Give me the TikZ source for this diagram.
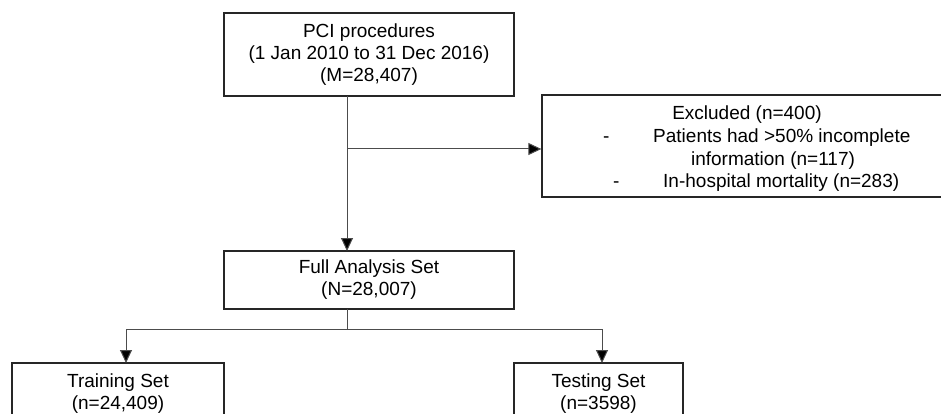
\documentclass[tikz,border=0pt]{standalone}
\usepackage{fontspec}
\setmainfont{Liberation Sans}
\usetikzlibrary{arrows.meta}
\begin{document}
\begin{tikzpicture}[x=1pt,y=-1pt,
  box/.style={draw=black!85, line width=1.3pt, align=center, inner sep=0pt,
    font=\fontsize{19}{22}\selectfont},
  txt/.style={inner sep=0pt, anchor=base west, font=\fontsize{19}{22}\selectfont},
  conn/.style={draw=black!70, line width=1pt},
  arr/.style={conn, -{Triangle[length=13pt,width=12pt,fill=black]}}]
\useasboundingbox (0,0) rectangle (941,414);

% main flow boxes
\node[box, minimum width=290pt, minimum height=83pt] (pci) at (369,54.5)
  {PCI procedures\\(1 Jan 2010 to 31 Dec 2016)\\(M=28,407)};
\node[box, minimum width=290pt, minimum height=58pt] (full) at (369,280)
  {Full Analysis Set\\(N=28,007)};
\node[box, minimum width=212pt, minimum height=61pt] (train) at (118,393.5)
  {Training Set\\(n=24,409)};
\node[box, minimum width=169pt, minimum height=61pt] (test) at (598.5,393.5)
  {Testing Set\\(n=3598)};

% exclusion box with its list
\node[box, minimum width=403pt, minimum height=102pt] (excl) at (743.5,146) {};
\node[txt, anchor=base] (exhead) at (747,120) {Excluded (n=400)};
\node[txt] (dashA) at (603,143) {-};
\node[txt] (itemA) at (653,143) {Patients had >50\% incomplete};
\node[txt, anchor=base] (itemAb) at (773,165) {information (n=117)};
\node[txt] (dashB) at (613,187) {-};
\node[txt] (itemB) at (663,187) {In-hospital mortality (n=283)};

% connectors
\coordinate (topout) at (347,96);
\coordinate (fullin) at (347,251);
\coordinate (branch) at (347,149);
\coordinate (fullout) at (347,309);
\coordinate (split) at (347,329);
\coordinate (splitL) at (126,329);
\coordinate (splitR) at (602,329);
\coordinate (trainin) at (126,363);
\coordinate (testin) at (602,363);

\draw[arr] (topout) -- (fullin);
\draw[arr] (branch) -- (excl.west |- branch);
\draw[conn] (fullout) -- (split);
\draw[conn] (splitL) -- (splitR);
\draw[arr] (splitL) -- (trainin);
\draw[arr] (splitR) -- (testin);
\end{tikzpicture}
\end{document}
